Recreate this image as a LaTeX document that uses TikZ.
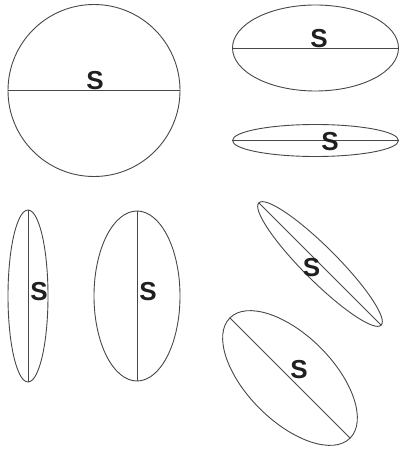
\documentclass[tikz,border=0pt]{standalone}
\usepackage{fontspec}
\setmainfont{Liberation Sans}
\usetikzlibrary{shapes.geometric}
\begin{document}
\begin{tikzpicture}[x=1pt,y=-1pt,
  shp/.style={draw=black!72, line width=0.9pt, ellipse, inner sep=0pt, outer sep=0pt},
  axisline/.style={draw=black!72, line width=0.9pt},
  lbl/.style={font=\fontsize{26}{26}\selectfont\bfseries, inner sep=0pt, text=black!88}]
\useasboundingbox (0,0) rectangle (399,449);
% circle
\node[shp, circle, minimum size=172pt] (e1) at (94,90.5) {};
\draw[axisline] (e1.west) -- (e1.east);
\node[lbl] (s1) at (95,81) {S};
% wide ellipse
\node[shp, minimum width=166pt, minimum height=86pt] (e2) at (315.5,48) {};
\draw[axisline] (e2.west) -- (e2.east);
\node[lbl] (s2) at (319,39) {S};
% thin horizontal ellipse
\node[shp, minimum width=166pt, minimum height=32pt] (e3) at (315.5,140.5) {};
\draw[axisline] (e3.west) -- (e3.east);
\node[lbl] (s3) at (330,142) {S};
% thin vertical ellipse
\node[shp, minimum width=40pt, minimum height=172pt] (e4) at (28,296) {};
\draw[axisline] (e4.north) -- (e4.south);
\node[lbl] (s4) at (39,292) {S};
% vertical ellipse
\node[shp, minimum width=86pt, minimum height=170pt] (e5) at (137,296) {};
\draw[axisline] (e5.north) -- (e5.south);
\node[lbl] (s5) at (148,292) {S};
% thin rotated ellipse
\node[shp, minimum width=173pt, minimum height=34pt, rotate=-45] (e6) at (320,264) {};
\draw[axisline] (e6.west) -- (e6.east);
\node[lbl] (s6) at (311.5,268) {S};
% rotated ellipse
\node[shp, minimum width=170pt, minimum height=86pt, rotate=-45] (e7) at (290,378) {};
\draw[axisline] (e7.west) -- (e7.east);
\node[lbl] (s7) at (299,370) {S};
\end{tikzpicture}
\end{document}
